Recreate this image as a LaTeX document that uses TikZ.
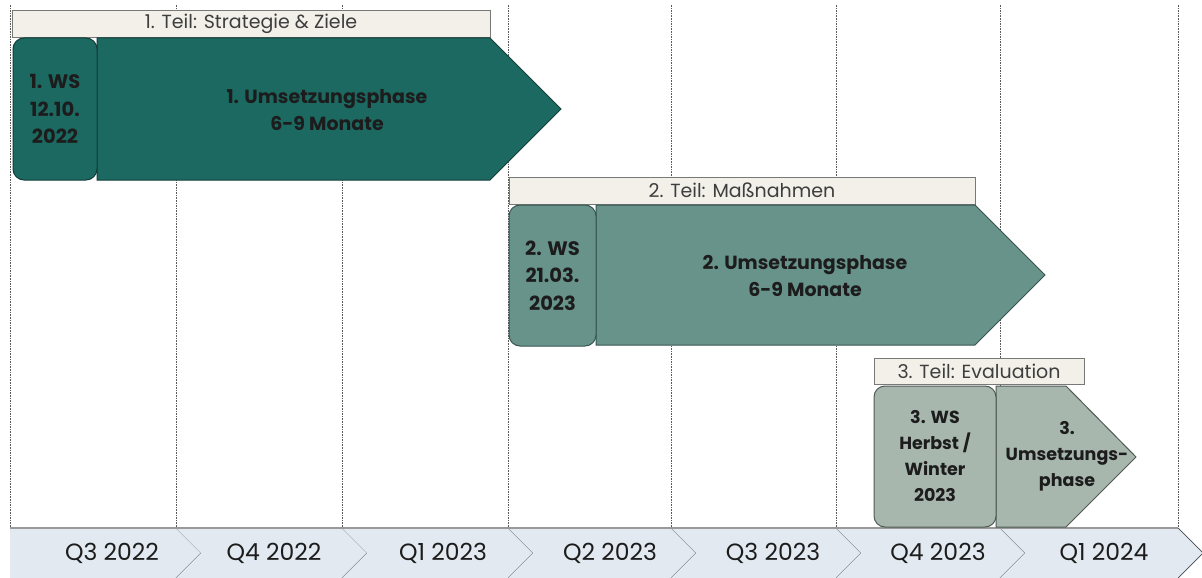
\documentclass[tikz,border=0pt]{standalone}
\usepackage{fontspec}
\setmainfont{Poppins}
\definecolor{cA}{RGB}{28,105,98}
\definecolor{cAd}{RGB}{18,62,57}
\definecolor{cB}{RGB}{104,147,139}
\definecolor{cBd}{RGB}{55,85,80}
\definecolor{cC}{RGB}{168,183,174}
\definecolor{cCd}{RGB}{80,90,84}
\definecolor{beige}{RGB}{242,240,233}
\definecolor{beiged}{RGB}{120,120,118}
\definecolor{chev}{RGB}{226,233,240}
\definecolor{chevd}{RGB}{70,74,80}
\definecolor{txt}{RGB}{28,28,28}
\definecolor{vl}{RGB}{90,90,90}
\begin{document}
\begin{tikzpicture}[x=1pt,y=-1pt,
  vline/.style={draw=vl,line width=0.8pt,dash pattern=on 1.6pt off 1pt},
  teil/.style={draw=beiged,fill=beige,line width=0.9pt,inner sep=0pt,text=txt!85,
    font=\fontsize{19}{22}\selectfont},
  wsbox/.style={rounded corners=11pt,line width=1pt,inner sep=0pt,align=center,text=txt,
    font=\bfseries\fontsize{19.5}{27.5}\selectfont},
  phase/.style={line width=1pt},
  ptext/.style={align=center,text=txt,font=\bfseries\fontsize{19}{27}\selectfont},
  smalltext/.style={font=\bfseries\fontsize{17.5}{26}\selectfont},
  qtext/.style={text=txt,font=\fontsize{23.5}{26}\selectfont}]
\useasboundingbox (0,0) rectangle (1202,578);
\fill[white] (0,0) rectangle (1202,578);
% vertical dashed guides
\foreach \x in {10,176,342,508,671,836,1000,1178}
  \draw[vline] (\x,5) -- (\x,528);
% timeline chevrons
\fill[chev] (10,528) -- (176,528) -- (201,553) -- (176,578) -- (10,578) -- cycle;
\draw[chevd,line width=0.7pt] (176,528) -- (201,553) -- (176,578);
\node[qtext] (q1) at (112,553) {Q3 2022};
\foreach \a/\b/\c/\t/\n in {176/342/274/Q4 2022/q2,342/508/443/Q1 2023/q3,508/671/610/Q2 2023/q4,
  671/836/773/Q3 2023/q5,836/1000/938/Q4 2023/q6,1000/1178/1104/Q1 2024/q7}{
  \fill[chev] (\a,528) -- (\b,528) -- (\b+25,553) -- (\b,578) -- (\a,578) -- (\a+25,553) -- cycle;
  \draw[chevd,line width=0.7pt] (\b,528) -- (\b+25,553) -- (\b,578);
  \node[qtext] (\n) at (\c,553) {\t};
}
\draw[line width=2pt,draw=black!40] (10,528) -- (1178,528);
% part 1
\node[teil,minimum width=478pt,minimum height=27pt] (t1) at (251,24) {1. Teil: Strategie \& Ziele};
\draw[phase,fill=cA,draw=cAd] (97,38) -- (490,38) -- (561,109) -- (490,180) -- (97,180) -- cycle;
\node[ptext] (u1) at (327,110) {1. Umsetzungsphase\\6-9 Monate};
\node[wsbox,fill=cA,draw=cAd,minimum width=84pt,minimum height=142pt] (ws1) at (55,109) {1. WS\\12.10.\\2022};
% part 2
\node[teil,minimum width=466pt,minimum height=27pt] (t2) at (742,190.5) {2. Teil: Maßnahmen};
\draw[phase,fill=cB,draw=cBd] (596,205) -- (975,205) -- (1045,275) -- (975,345) -- (596,345) -- cycle;
\node[ptext] (u2) at (805,276) {2. Umsetzungsphase\\6-9 Monate};
\node[wsbox,fill=cB,draw=cBd,minimum width=87pt,minimum height=141pt] (ws2) at (552.5,275.5) {2. WS\\21.03.\\2023};
% part 3
\node[teil,minimum width=210pt,minimum height=26pt] (t3) at (979,371) {3. Teil: Evaluation};
\draw[phase,fill=cC,draw=cCd] (996,386) -- (1066,386) -- (1136,457) -- (1066,527) -- (996,527) -- cycle;
\node[ptext,smalltext] (u3) at (1067,456) {3.\\Umsetzungs-\\phase};
\node[wsbox,fill=cC,draw=cCd,minimum width=122pt,minimum height=141pt,smalltext] (ws3) at (935,456.5) {3. WS\\Herbst /\\Winter\\2023};
\end{tikzpicture}
\end{document}
